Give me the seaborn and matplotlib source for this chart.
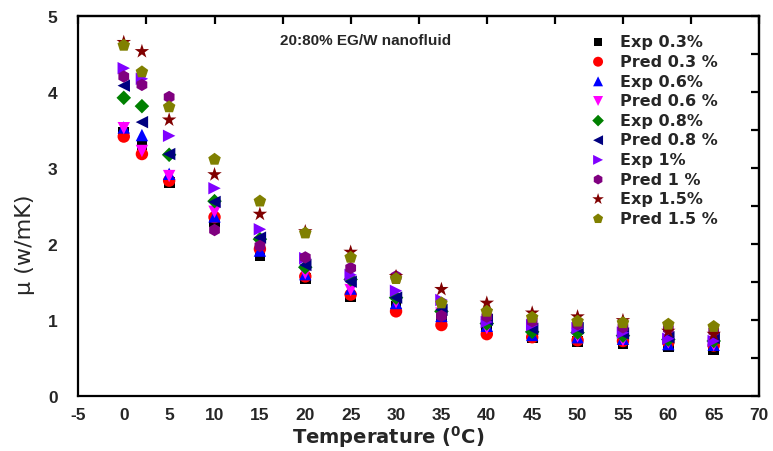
import numpy as np
import pandas as pd
import matplotlib
matplotlib.use("Agg")
import matplotlib.pyplot as plt
import seaborn as sns

temps = [0, 2, 5, 10, 15, 20, 25, 30, 35, 40, 45, 50, 55, 60, 65]

exp_03  = [3.47, 3.31, 2.81, 2.29, 1.85, 1.54, 1.30, 1.17, 1.01, 0.87, 0.77, 0.71, 0.69, 0.64, 0.61]
pred_03 = [3.41, 3.18, 2.83, 2.35, 1.93, 1.57, 1.33, 1.11, 0.93, 0.81, 0.77, 0.73, 0.72, 0.70, 0.66]
exp_06  = [3.53, 3.43, 2.92, 2.36, 1.91, 1.60, 1.41, 1.22, 1.05, 0.92, 0.80, 0.77, 0.75, 0.68, 0.67]
pred_06 = [3.52, 3.22, 2.89, 2.42, 2.01, 1.61, 1.39, 1.23, 1.08, 0.89, 0.85, 0.78, 0.73, 0.70, 0.67]
exp_08  = [3.92, 3.81, 3.17, 2.56, 2.06, 1.69, 1.53, 1.29, 1.11, 0.95, 0.84, 0.83, 0.79, 0.74, 0.72]
pred_08 = [4.08, 3.60, 3.18, 2.55, 2.08, 1.72, 1.50, 1.29, 1.13, 1.00, 0.88, 0.89, 0.82, 0.77, 0.76]
exp_1   = [4.31, 4.17, 3.42, 2.73, 2.19, 1.81, 1.59, 1.38, 1.26, 0.97, 0.93, 0.89, 0.83, 0.75, 0.72]
pred_1  = [4.20, 4.09, 3.93, 2.18, 1.97, 1.82, 1.68, 1.57, 1.05, 1.04, 0.98, 0.94, 0.90, 0.88, 0.85]
exp_15  = [4.65, 4.53, 3.63, 2.91, 2.39, 2.16, 1.89, 1.57, 1.40, 1.22, 1.09, 1.04, 0.99, 0.85, 0.81]
pred_15 = [4.61, 4.26, 3.80, 3.11, 2.56, 2.14, 1.82, 1.54, 1.22, 1.11, 1.03, 0.98, 0.96, 0.94, 0.91]

labels = ["Exp 0.3%", "Pred 0.3 %", "Exp 0.6%", "Pred 0.6 %", "Exp 0.8%",
          "Pred 0.8 %", "Exp 1%", "Pred 1 %", "Exp 1.5%", "Pred 1.5 %"]
series = [exp_03, pred_03, exp_06, pred_06, exp_08, pred_08, exp_1, pred_1, exp_15, pred_15]
colors = ["#000000", "#FF0000", "#0000FF", "#FF00FF", "#008000",
          "#000080", "#8000FF", "#800080", "#800000", "#808000"]
markers = ["s", "o", "^", "v", "D", "<", ">", "h", "*", "p"]
sizes = [60, 80, 80, 80, 55, 80, 80, 80, 120, 90]

rows = []
for lab, vals in zip(labels, series):
    for t, v in zip(temps, vals):
        rows.append({"T": t, "mu": v, "series": lab})
df = pd.DataFrame(rows)

sns.set_style("white")
plt.rcParams["font.family"] = ["Liberation Sans", "DejaVu Sans"]
plt.rcParams["axes.unicode_minus"] = False
plt.rcParams["mathtext.fontset"] = "custom"
plt.rcParams["mathtext.rm"] = "DejaVu Sans:bold"
plt.rcParams["mathtext.bf"] = "DejaVu Sans:bold"

fig = plt.figure(figsize=(7.73, 4.52), dpi=100)
ax = fig.add_axes([0.1014, 0.1223, 0.8806, 0.8407])

for lab, c, m, s in zip(labels, colors, markers, sizes):
    sub = df[df["series"] == lab]
    sns.scatterplot(data=sub, x="T", y="mu", color=c, marker=m, s=s,
                    edgecolor="none", linewidth=0, ax=ax, label=lab, zorder=3)

ax.set_xlim(-5, 70)
ax.set_ylim(0, 5)
ax.set_xticks(np.arange(-5, 71, 5))
ax.set_xticks(np.arange(-2.5, 70, 5), minor=True)
ax.set_yticks(np.arange(0, 5.1, 1))
ax.set_yticks(np.arange(0.5, 5, 1), minor=True)
ax.tick_params(axis="both", which="major", direction="out", length=6, width=1.6,
               labelsize=12.5, color="black")
ax.tick_params(axis="x", which="major", pad=2)
ax.tick_params(axis="y", which="major", pad=9)
ax.tick_params(axis="both", which="minor", direction="out", length=3.5, width=1.6, color="black")
for lbl in ax.get_xticklabels() + ax.get_yticklabels():
    lbl.set_fontweight("bold")

for sp in ax.spines.values():
    sp.set_linewidth(1.6)
    sp.set_color("black")

top = ax.secondary_xaxis("top")
top.set_xticks(np.arange(-5, 71, 7.5))
top.tick_params(direction="in", length=6, width=1.6, labeltop=False, color="black")
top.spines["top"].set_linewidth(1.6)
right = ax.secondary_yaxis("right")
right.set_yticks(np.arange(0, 5.01, 0.5))
right.tick_params(direction="in", length=6, width=1.6, labelright=False, color="black")
right.spines["right"].set_linewidth(1.6)

ax.set_xlabel("Temperature ($\\mathregular{^0}$C)", fontsize=14, fontweight="bold",
              family="DejaVu Sans")
ax.xaxis.set_label_coords(0.455, -0.072)
ax.set_ylabel("\u03bc (w/mK)", fontsize=16, family="DejaVu Sans")
ax.yaxis.set_label_coords(-0.064, 0.40)

ax.text(0.296, 0.935, "20:80% EG/W nanofluid", transform=ax.transAxes,
        fontsize=11, fontweight="bold", ha="left", va="center")

leg = ax.legend(loc="upper left", bbox_to_anchor=(0.74, 0.968), frameon=False,
                prop={"family": "DejaVu Sans", "weight": "bold", "size": 11.5},
                labelspacing=0.29, handletextpad=0.8, handlelength=1.2,
                borderaxespad=0, markerscale=0.8)

fig.savefig("out.png", dpi=100)
